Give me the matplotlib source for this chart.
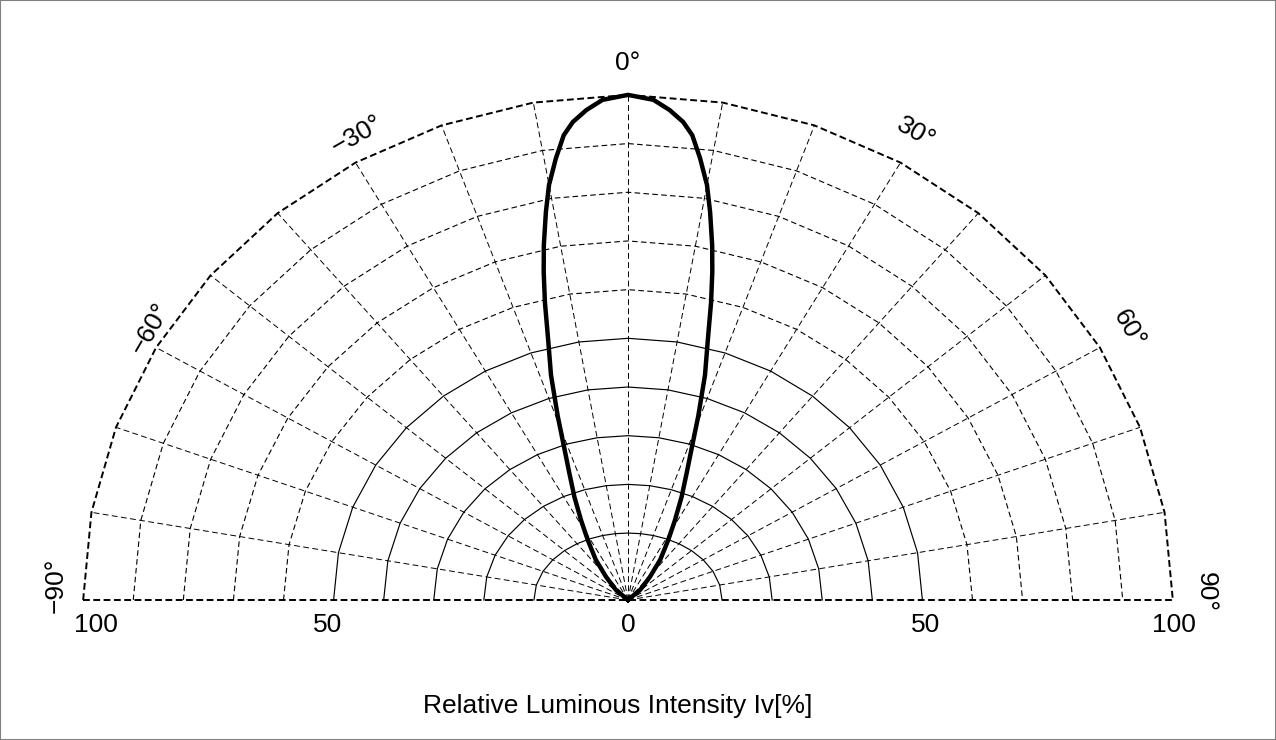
import numpy as np
import matplotlib.pyplot as plt
from matplotlib.patches import Rectangle

# right half of the radiation lobe (the left half mirrors it)
lobe_angle = [0, 2.7, 4.5, 6.1, 7.3, 8.6, 10.0, 11.1, 12.4, 13.4, 14.5, 15.8,
              17.6, 19.5, 21.1, 23.2, 25.7, 28.6, 31.9, 36.6, 41.2, 48.0, 55.0]
lobe_value = [100, 99.1, 97.2, 95.0, 92.5, 88.0, 82.8, 77.4, 70.8, 65.4, 59.3, 52.0,
              44.5, 36.0, 29.8, 24.1, 19.2, 14.2, 9.9, 6.9, 4.2, 2.0, 0]

grid_radii = [10, 20, 30, 40, 50, 60, 70, 80, 90, 100]
spoke_angles = [-80, -70, -60, -50, -40, -30, -20, -10, 0, 10, 20, 30, 40, 50, 60, 70, 80]
angle_ticks = [-90, -60, -30, 0, 30, 60, 90]
angle_labels = ["\u221290\u00b0", "\u221260\u00b0", "\u221230\u00b0", "0\u00b0",
                "30\u00b0", "60\u00b0", "90\u00b0"]
radial_ticks = [100, 50, 0, 50, 100]
radial_side = [-1, -1, 0, 1, 1]
xlabel = "Relative Luminous Intensity Iv[%]"

FONT = "Liberation Sans"

# where the rim labels sit (angle, radius), as placed on the printed chart
label_theta = [-88.4, -58.5, -28.4, 0, 29.7, 59.7, 89.1]
label_r = [105.6, 103.1, 104.8, 106.5, 106.8, 106.8, 106.5]
# sideways nudges (points) of the intensity labels
radial_nudge = [9, -4, 0, 2, 1]


def radius_xy(r):
    # the printed chart stretches its radial scale differently across and up,
    # with a wider first ring
    r = np.asarray(r, dtype=float)
    rx = np.where(r < 10, 1.725 * r, 8.07 + 0.919 * r)
    ry = np.where(r < 10, 1.327 * r, 3.62 + 0.964 * r)
    return rx, ry


def to_xy(theta_deg, r):
    """Polar (angle from vertical, intensity) -> chart x, y."""
    th = np.radians(np.asarray(theta_deg, dtype=float))
    rx, ry = radius_xy(r)
    s, c = np.sin(th), np.cos(th)
    with np.errstate(divide="ignore", invalid="ignore"):
        t = 1.0 / np.sqrt((s / rx) ** 2 + (c / ry) ** 2)
    t = np.where(np.asarray(r, dtype=float) > 0, t, 0.0)
    return t * s, t * c


fig = plt.figure(figsize=(12.76, 7.4), dpi=100)
ax = fig.add_axes([0, 0, 1, 1])
ax.set_xlim(-115.23, 118.90)
ax.set_ylim(-27.72, 118.81)
ax.axis("off")

# rings, drawn as polygons with corners on the spokes
ring_theta = np.arange(-90, 91, 10)
for r in grid_radii:
    x, y = to_xy(ring_theta, np.full(ring_theta.shape, r))
    if r == 100:
        ax.plot(x, y, color="black", lw=1.4, dashes=(3.5, 1.8))
    elif r > 50:
        ax.plot(x, y, color="black", lw=0.8, dashes=(5, 3))
    else:
        ax.plot(x, y, color="black", lw=0.85)

# spokes
for a in spoke_angles:
    x, y = to_xy([a, a], [0, 100])
    ax.plot(x, y, color="black", lw=0.7, dashes=(6, 3.5))

# base line (-90 .. 90)
x, y = to_xy([-90, 90], [100, 100])
ax.plot(x, y, color="black", lw=1.4, dashes=(3.5, 1.8))

# the lobe
ang = np.concatenate([-np.array(lobe_angle[::-1]), np.array(lobe_angle[1:])])
val = np.concatenate([np.array(lobe_value[::-1]), np.array(lobe_value[1:])])
x, y = to_xy(ang, val)
ax.plot(x, y, color="black", lw=3.2, solid_joinstyle="round", zorder=5)

# angle labels around the rim
for a, lab, th, rr in zip(angle_ticks, angle_labels, label_theta, label_r):
    lx, ly = to_xy(th, rr)
    ax.text(lx, ly, lab, rotation=-a, rotation_mode="anchor",
            ha="center", va="center", fontsize=19, family=FONT)

# intensity labels under the base line
for r, side, dx in zip(radial_ticks, radial_side, radial_nudge):
    rx, _ = radius_xy(r)
    ax.annotate(str(r), (side * float(rx), -4.6), xytext=(dx, -1),
                textcoords="offset points", ha="center", va="center",
                fontsize=19, family=FONT)

fig.text(0.484, 0.046, xlabel, ha="center", va="center", fontsize=19, family=FONT)

fig.patches.append(Rectangle((0, 0), 1, 1, transform=fig.transFigure,
                             fill=False, edgecolor="#808080", lw=1.5))

fig.savefig("out.png", dpi=100)
